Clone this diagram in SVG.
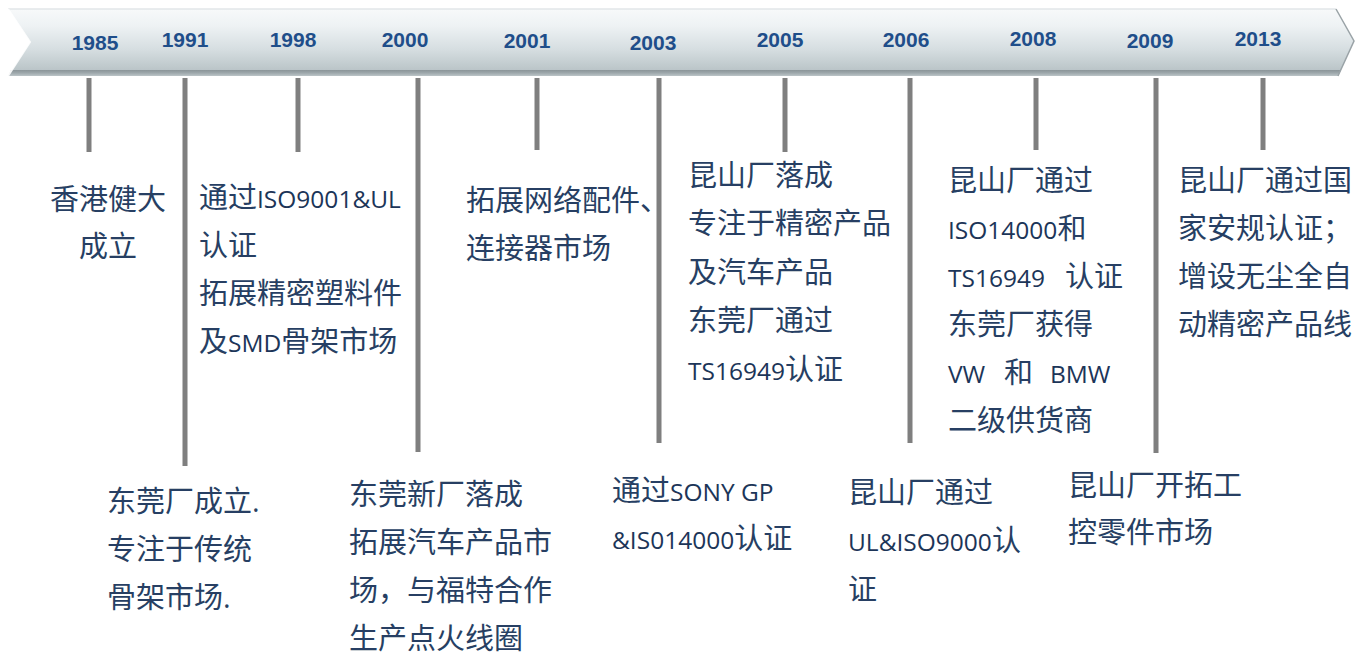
<svg xmlns="http://www.w3.org/2000/svg" width="1364" height="655" viewBox="0 0 1364 655">
<defs>
<linearGradient id="bg" x1="0" y1="0" x2="0" y2="1">
<stop offset="0" stop-color="#f7f9fa"/>
<stop offset="0.25" stop-color="#eef2f4"/>
<stop offset="0.6" stop-color="#d6dee1"/>
<stop offset="0.85" stop-color="#c0cacd"/>
<stop offset="1" stop-color="#b3bdc1"/>
</linearGradient>
<linearGradient id="band" x1="0" y1="0" x2="0" y2="1">
<stop offset="0" stop-color="#8a9498"/>
<stop offset="0.5" stop-color="#9ea8ac"/>
<stop offset="1" stop-color="#bcc5c8"/>
</linearGradient>
</defs>
<style>
.yr{font-family:"Liberation Sans",Arial,sans-serif;font-weight:bold;font-size:21px;fill:#1f4e8a;text-anchor:middle}
.t{font-family:"Open Sans","Noto Sans CJK SC",sans-serif;font-size:29px;fill:#273f63}
.l{font-size:24.5px;fill:#1c3558}
.c{text-anchor:middle}
.ln{stroke:#7f7f7f;stroke-width:5;fill:none}
</style>
<rect width="1364" height="655" fill="#ffffff"/>
<g id="banner">
<path d="M8,9 L1336,9 L1354,41 L1338,76 L8,76 L30,42 Z" fill="url(#bg)"/>
<path d="M11,70 L1341,70 L1338,76 L8,76 Z" fill="url(#band)"/>
<path d="M8,9 L1336,9" stroke="#e2e6e8" stroke-width="1.5" fill="none"/>
<path d="M8,9 L30,42 L8,76" stroke="#ffffff" stroke-width="2" fill="none" opacity="0.9"/>
<path d="M1336,9 L1354,41 L1338,76" stroke="#9aa3a7" stroke-width="1.5" fill="none"/>
</g>
<g id="connectors">
<line class="ln" x1="89" y1="78" x2="89" y2="152"/>
<line class="ln" x1="185" y1="78" x2="185" y2="466"/>
<line class="ln" x1="298" y1="78" x2="298" y2="152"/>
<line class="ln" x1="418" y1="78" x2="418" y2="452"/>
<line class="ln" x1="537" y1="78" x2="537" y2="150"/>
<line class="ln" x1="659" y1="78" x2="659" y2="443"/>
<line class="ln" x1="785" y1="78" x2="785" y2="152"/>
<line class="ln" x1="910" y1="78" x2="910" y2="443"/>
<line class="ln" x1="1036" y1="78" x2="1036" y2="150"/>
<line class="ln" x1="1156" y1="78" x2="1156" y2="453"/>
<line class="ln" x1="1263" y1="78" x2="1263" y2="150"/>
</g>
<g id="n1985">
<text class="yr" x="95" y="50">1985</text>
<text class="t c" x="108" y="210">香港健大</text>
<text class="t c" x="108" y="257">成立</text>
</g>
<g id="n1991">
<text class="yr" x="185" y="47">1991</text>
<text class="t" x="107" y="512">东莞厂成立.</text>
<text class="t" x="107" y="560">专注于传统</text>
<text class="t" x="107" y="608">骨架市场.</text>
</g>
<g id="n1998">
<text class="yr" x="293" y="47">1998</text>
<text class="t" x="199" y="208">通过<tspan class="l">ISO9001&amp;UL</tspan></text>
<text class="t" x="199" y="256">认证</text>
<text class="t" x="199" y="304">拓展精密塑料件</text>
<text class="t" x="199" y="352">及<tspan class="l">SMD</tspan>骨架市场</text>
</g>
<g id="n2000">
<text class="yr" x="405" y="47">2000</text>
<text class="t" x="349" y="505">东莞新厂落成</text>
<text class="t" x="349" y="553">拓展汽车产品市</text>
<text class="t" x="349" y="601">场，与福特合作</text>
<text class="t" x="349" y="649">生产点火线圈</text>
</g>
<g id="n2001">
<text class="yr" x="527" y="48">2001</text>
<text class="t" x="466" y="211">拓展网络配件、</text>
<text class="t" x="466" y="259">连接器市场</text>
</g>
<g id="n2003">
<text class="yr" x="653" y="50">2003</text>
<text class="t" x="612" y="501">通过<tspan class="l">SONY GP</tspan></text>
<text class="t" x="612" y="549"><tspan class="l">&amp;IS014000</tspan>认证</text>
</g>
<g id="n2005">
<text class="yr" x="780" y="47">2005</text>
<text class="t" x="688" y="186">昆山厂落成</text>
<text class="t" x="688" y="234">专注于精密产品</text>
<text class="t" x="688" y="283">及汽车产品</text>
<text class="t" x="688" y="331">东莞厂通过</text>
<text class="t" x="688" y="380"><tspan class="l">TS16949</tspan>认证</text>
</g>
<g id="n2006">
<text class="yr" x="906" y="47">2006</text>
<text class="t" x="848" y="503">昆山厂通过</text>
<text class="t" x="848" y="551"><tspan class="l">UL&amp;ISO9000</tspan>认</text>
<text class="t" x="848" y="600">证</text>
</g>
<g id="n2008">
<text class="yr" x="1033" y="46">2008</text>
<text class="t" x="948" y="191">昆山厂通过</text>
<text class="t" x="948" y="239"><tspan class="l">ISO14000</tspan>和</text>
<text class="t" x="948" y="287"><tspan class="l">TS16949</tspan><tspan x="1065">认证</tspan></text>
<text class="t" x="948" y="335">东莞厂获得</text>
<text class="t" x="948" y="383"><tspan class="l">VW</tspan><tspan x="1004">和</tspan><tspan class="l" x="1050">BMW</tspan></text>
<text class="t" x="948" y="431">二级供货商</text>
</g>
<g id="n2009">
<text class="yr" x="1150" y="48">2009</text>
<text class="t" x="1068" y="496">昆山厂开拓工</text>
<text class="t" x="1068" y="543">控零件市场</text>
</g>
<g id="n2013">
<text class="yr" x="1258" y="46">2013</text>
<text class="t" x="1178" y="191">昆山厂通过国</text>
<text class="t" x="1178" y="239">家安规认证；</text>
<text class="t" x="1178" y="287">增设无尘全自</text>
<text class="t" x="1178" y="335">动精密产品线</text>
</g>
</svg>
